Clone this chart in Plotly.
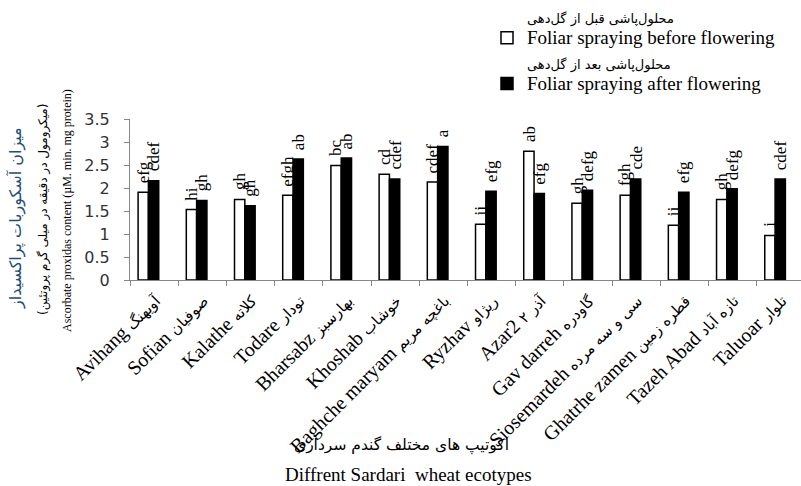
import plotly.graph_objects as go

categories = ["Avihang", "Sofian", "Kalathe", "Todare", "Bharsabz", "Khoshab",
              "Baghche maryam", "Ryzhav", "Azar2", "Gav darreh", "Siosemardeh",
              "Ghatrhe zamen", "Tazeh Abad", "Taluoar"]
categories_fa = ["آویهنگ", "صوفیان", "کلاته", "تودار", "بهارسبز", "خوشاب",
                 "باغچه مریم", "ریژاو", "آذر ۲", "گاودره", "سی و سه مرده",
                 "قطره زمین", "تازه آباد", "تلوار"]
before_flowering = [1.91, 1.535, 1.75, 1.84, 2.49, 2.30, 2.13, 1.21, 2.80, 1.67, 1.84, 1.19, 1.75, 0.97]
after_flowering = [2.16, 1.73, 1.615, 2.63, 2.65, 2.195, 2.90, 1.93, 1.88, 1.95, 2.195, 1.905, 1.985, 2.195]
letters_before = ["efg", "hi", "gh", "efgh", "bc", "cd", "cdef", "ij", "ab", "gh", "fgh", "ij", "gh", "i"]
letters_after = ["cdef", "gh", "gh", "ab", "ab", "cdef", "a", "efg", "efg", "defg", "cde", "efg", "defg", "cdef"]
y_ticks = [0, 0.5, 1, 1.5, 2, 2.5, 3, 3.5]

FA = "DejaVu Sans"
SERIF = "Liberation Serif, Times New Roman, serif"

name_before = ("<span style='font-family:DejaVu Sans;font-size:13px'>محلول‌پاشی قبل از گل‌دهی</span>"
               "<br><span style='font-size:19px'>Foliar spraying before flowering</span>")
name_after = ("<span style='font-family:DejaVu Sans;font-size:13px'>محلول‌پاشی بعد از گل‌دهی</span>"
              "<br><span style='font-size:19px'>Foliar spraying after flowering</span>")

BW = 0.214
fig = go.Figure()
fig.add_trace(go.Bar(x=categories, y=before_flowering, name=name_before,
                     marker=dict(color="white", line=dict(color="black", width=1.5)),
                     width=BW, offset=-0.332))
fig.add_trace(go.Bar(x=categories, y=after_flowering, name=name_after,
                     marker=dict(color="black", line=dict(color="black", width=1.5)),
                     width=BW, offset=-0.118))

ann = []
for i, c in enumerate(categories):
    ann.append(dict(x=i - 0.226, y=before_flowering[i], xref="x", yref="y", text=letters_before[i],
                    textangle=-90, showarrow=False, xanchor="center", yanchor="bottom", yshift=7,
                    font=dict(family=SERIF, size=17, color="black")))
    ann.append(dict(x=i - 0.012, y=after_flowering[i], xref="x", yref="y", text=letters_after[i],
                    textangle=-90, showarrow=False, xanchor="center", yanchor="bottom", yshift=7,
                    font=dict(family=SERIF, size=17, color="black")))

PL, PW, PT, PH = 130, 671, 119, 161
def px(xp):
    return (xp - PL) / PW
def py(yp):
    return (PT + PH - yp) / PH

def title_ann(xp, yp, text, font, angle=0):
    return dict(x=px(xp), y=py(yp), xref="paper", yref="paper", text=text, textangle=angle,
                showarrow=False, xanchor="center", yanchor="middle", font=font)

# y-axis titles
ann.append(title_ann(16, 218, "میزان آسکوربات پراکسیداز",
                     dict(family=FA, size=16, color="#1f4e79"), -90))
ann.append(title_ann(43, 210, "(میکرومول در دقیقه در میلی گرم پروتئین)",
                     dict(family=FA, size=12, color="black"), -90))
ann.append(title_ann(67, 211, "Ascorbate proxidas content (µM. min. mg protein)",
                     dict(family=SERIF, size=12, color="black"), -90))
# x-axis titles
ann.append(title_ann(401, 445, "اکوتیپ های مختلف گندم سرداری",
                     dict(family=FA, size=15.5, color="black")))
ann.append(title_ann(408, 474, "Diffrent Sardari\u00a0 wheat ecotypes",
                     dict(family=SERIF, size=19, color="black")))

ticktext = [f"{en} <span style='font-family:DejaVu Sans;font-size:15px'>{fa}</span>"
            for en, fa in zip(categories, categories_fa)]

fig.update_layout(
    width=801, height=486,
    margin=dict(l=PL, r=0, t=PT, b=486 - PT - PH, pad=0, autoexpand=False),
    plot_bgcolor="white", paper_bgcolor="white",
    barmode="group",
    showlegend=True,
    legend=dict(x=px(487), y=py(-1), xanchor="left", yanchor="top", xref="paper", yref="paper",
                font=dict(family=SERIF, size=16.5, color="black"), valign="bottom",
                bgcolor="rgba(0,0,0,0)", tracegroupgap=0),
    annotations=ann,
    xaxis=dict(type="category", range=[-0.5, 13.42], showline=True, linecolor="#868686", linewidth=1,
               ticks="outside", tickson="boundaries", ticklen=5, tickcolor="#868686",
               tickangle=-45, tickvals=categories, ticktext=ticktext,
               tickfont=dict(family=SERIF, size=20, color="black"), showgrid=False, zeroline=False),
    yaxis=dict(range=[0, 3.5], tickvals=y_ticks, ticktext=[f"{v:g}" for v in y_ticks],
               showline=True, linecolor="#868686", linewidth=1, ticks="outside", ticklen=5,
               tickcolor="#868686", ticklabelstandoff=11,
               tickfont=dict(family="DejaVu Sans", size=16, color="#333"),
               showgrid=False, zeroline=False),
)

fig.write_html("out.html", config={"displayModeBar": False},
               post_script="document.body.style.margin='0';document.body.style.overflow='hidden';")
